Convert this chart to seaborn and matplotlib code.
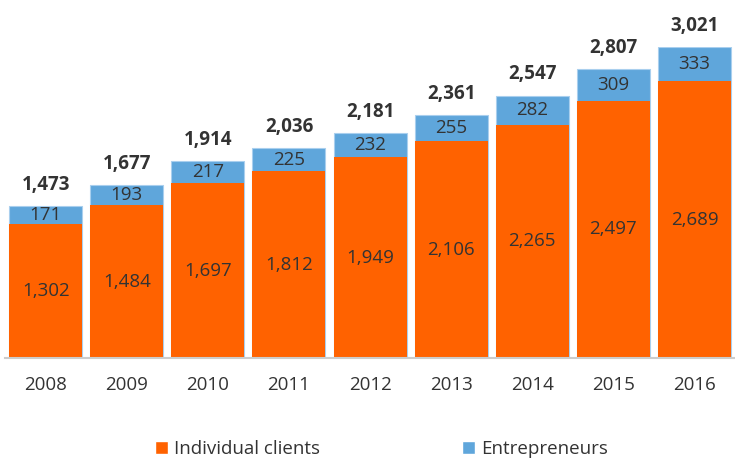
import matplotlib
matplotlib.use("Agg")
import matplotlib.pyplot as plt
import seaborn as sns
import pandas as pd
from matplotlib.patches import Patch

years = ["2008", "2009", "2010", "2011", "2012", "2013", "2014", "2015", "2016"]
individual = [1302, 1484, 1697, 1812, 1949, 2106, 2265, 2497, 2689]
entrepreneurs = [171, 193, 217, 225, 232, 255, 282, 309, 333]
totals = [1473, 1677, 1914, 2036, 2181, 2361, 2547, 2807, 3021]

orange = "#FF6200"
blue = "#5FA6DB"
txt = "#333333"

sns.set_theme(style="white")
plt.rcParams['font.family'] = ['Open Sans', 'DejaVu Sans']

df = pd.DataFrame({"year": years, "individual": individual,
                   "entrepreneurs": entrepreneurs,
                   "stack": [i + e for i, e in zip(individual, entrepreneurs)]})

fig = plt.figure(figsize=(7.35, 4.59), dpi=100)
ax = fig.add_axes([0.007, 0.22, 0.993, 0.6776])

sns.barplot(data=df, x="year", y="stack", color=blue, width=0.9, ax=ax,
            saturation=1, edgecolor="#A9CFEE", linewidth=0.8)
sns.barplot(data=df, x="year", y="individual", color=orange, width=0.9, ax=ax,
            saturation=1, linewidth=0)

fs = 13.5
for i, (ind, ent, tot) in enumerate(zip(individual, entrepreneurs, totals)):
    ax.text(i, ind / 2, f"{ind:,}", ha="center", va="center", fontsize=fs, color=txt)
    ax.text(i, ind + ent / 2, f"{ent:,}", ha="center", va="center", fontsize=fs, color=txt)
    ax.text(i, ind + ent + 110, f"{tot:,}", ha="center", va="bottom", fontsize=fs,
            fontweight="bold", color=txt, clip_on=False)

ax.set_ylim(0, 3021)
ax.set_xlim(-0.5, 8.5)
ax.set_xlabel("")
ax.set_ylabel("")
ax.set_yticks([])
ax.tick_params(axis="x", length=0, pad=13, labelsize=fs, labelcolor=txt)
for s in ["top", "right", "left"]:
    ax.spines[s].set_visible(False)
ax.spines["bottom"].set_color("#CCCCCC")
ax.spines["bottom"].set_linewidth(1.5)

handles = [Patch(facecolor=orange, label="Individual clients"),
           Patch(facecolor=blue, label="Entrepreneurs")]
fig.legend(handles=handles, loc="center", bbox_to_anchor=(0.519, 0.022), ncol=2,
           frameon=False, fontsize=fs, handlelength=0.7, handleheight=0.7,
           handletextpad=0.3, columnspacing=7.6, labelcolor=txt)

fig.savefig("out.png", dpi=100)
